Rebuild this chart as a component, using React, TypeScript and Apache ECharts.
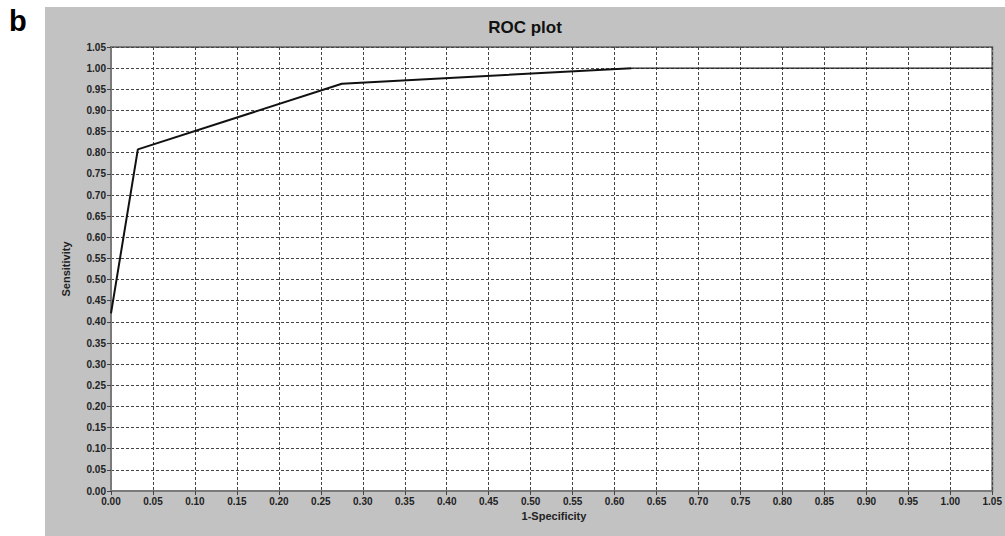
import React, { useEffect, useRef } from "react";
import * as echarts from "echarts";

const fpr = [0, 0.032, 0.275, 0.62];
const tpr = [0.42, 0.808, 0.963, 1.0];
const tailX = [0.62, 1.05];
const tailY = [1.0, 1.0];

const title = "ROC plot";
const xName = "1-Specificity";
const yName = "Sensitivity";
const panelLetter = "b";

export default function App() {
  const ref = useRef<HTMLDivElement>(null);
  useEffect(() => {
    if (!ref.current) return;
    const chart = echarts.init(ref.current, null, { renderer: "svg" });
    const fmt = (v: number) => v.toFixed(2);
    const curve = fpr.map((x, i) => [x, tpr[i]]);
    const tail = tailX.map((x, i) => [x, tailY[i]]);
    chart.setOption({
      animation: false,
      backgroundColor: "#ffffff",
      graphic: [
        { type: "rect", shape: { x: 45, y: 7, width: 960, height: 529 }, style: { fill: "#c2c2c2" }, z: -10 },
        { type: "text", left: 9, top: 6, style: { text: panelLetter, font: "bold 29px Arial, 'Liberation Sans', sans-serif", fill: "#000" } },
        { type: "text", x: 525, y: 27, style: { text: title, font: "bold 17px Arial, 'Liberation Sans', sans-serif", fill: "#111", align: "center", verticalAlign: "middle" } },
        { type: "text", x: 554, y: 516, style: { text: xName, font: "bold 11px Arial, 'Liberation Sans', sans-serif", fill: "#222", align: "center", verticalAlign: "middle" } },
        { type: "text", x: 66, y: 269, rotation: Math.PI / 2, style: { text: yName, font: "bold 11px Arial, 'Liberation Sans', sans-serif", fill: "#222", align: "center", verticalAlign: "middle" } },
      ],
      grid: {
        left: 111, top: 47, width: 887, height: 444,
        show: true, backgroundColor: "#ffffff", borderColor: "#7a7a7a", borderWidth: 2,
      },
      xAxis: {
        type: "value", min: 0, max: 1.05, interval: 0.05,
        axisLine: { show: true, lineStyle: { color: "#7a7a7a", width: 2 } },
        axisTick: { show: true, length: 4, lineStyle: { color: "#444" } },
        axisLabel: { formatter: fmt, color: "#222", fontSize: 10, fontWeight: "bold", fontFamily: "Arial, 'Liberation Sans', sans-serif", margin: 5, showMaxLabel: true },
        splitLine: { show: true, lineStyle: { color: "#444", type: [3, 2], width: 1 } },
      },
      yAxis: {
        type: "value", min: 0, max: 1.05, interval: 0.05,
        axisLine: { show: true, lineStyle: { color: "#7a7a7a", width: 2 } },
        axisTick: { show: true, length: 4, lineStyle: { color: "#444" } },
        axisLabel: { formatter: fmt, color: "#222", fontSize: 10, fontWeight: "bold", fontFamily: "Arial, 'Liberation Sans', sans-serif", margin: 5, showMaxLabel: true },
        splitLine: { show: true, lineStyle: { color: "#444", type: [3, 2], width: 1 } },
      },
      series: [
        { type: "line", data: curve, showSymbol: false, lineStyle: { color: "#111", width: 2 }, z: 5 },
        { type: "line", data: tail, showSymbol: false, lineStyle: { color: "#222", width: 1.2 }, z: 4 },
      ],
    });
    return () => chart.dispose();
  }, []);
  return <div ref={ref} style={{ position: "absolute", left: 0, top: 0, width: 1005, height: 536 }} />;
}
